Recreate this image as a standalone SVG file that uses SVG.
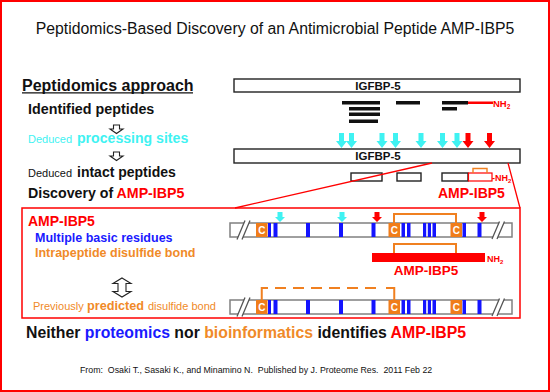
<svg xmlns="http://www.w3.org/2000/svg" width="550" height="392" viewBox="0 0 550 392">
<style>
text{font-family:"Liberation Sans",Arial,sans-serif}
.b{font-weight:bold}
.bar{fill:#fff;stroke:#222;stroke-width:1.4}
.seq{fill:#fff;stroke:#808080;stroke-width:1.5}
.bl{fill:#1414ff}
.cb{fill:#f07d1a}
.ct{fill:#fff;font-weight:bold;font-size:10px;text-anchor:middle}
.cy{fill:#3ff2f2}
.rd{fill:#f00}
.pk{fill:#111}
.hol{fill:#fff;stroke:#222;stroke-width:1.1}
.brk{stroke:#555;stroke-width:1.3;fill:none}
.ob{fill:none;stroke:#f08020;stroke-width:2}
.zl{fill:none;stroke:#f00;stroke-width:1.3}
</style>
<defs>
<path id="ar" d="M-2.5,0H2.5V8H5.5L0,15L-5.5,8H-2.5Z"/>
<path id="sa" d="M-2.5,0H2.5V5H5L0,10L-5,5H-2.5Z"/>
<g id="seqin">
<rect class="seq" x="230" y="0" width="282" height="14"/>
<rect class="bl" x="268" y="0" width="3" height="14"/>
<rect class="bl" x="273.5" y="0" width="4" height="14"/>
<rect class="bl" x="306" y="0" width="4" height="14"/>
<rect class="bl" x="339" y="0" width="4" height="14"/>
<rect class="bl" x="371.5" y="0" width="4" height="14"/>
<rect class="bl" x="401.5" y="0" width="3.5" height="14"/>
<rect class="bl" x="407" y="0" width="3.5" height="14"/>
<rect class="bl" x="423" y="0" width="3.2" height="14"/>
<rect class="bl" x="427.8" y="0" width="3.2" height="14"/>
<rect class="bl" x="432.5" y="0" width="3.5" height="14"/>
<rect class="bl" x="462.5" y="0" width="3.5" height="14"/>
<rect class="bl" x="477.5" y="0" width="4" height="14"/>
<rect class="cb" x="256" y="0" width="11.5" height="14"/>
<rect class="cb" x="388.5" y="0" width="11.5" height="14"/>
<rect class="cb" x="450.5" y="0" width="11.5" height="14"/>
<text class="ct" x="261.75" y="11">C</text>
<text class="ct" x="394.25" y="11">C</text>
<text class="ct" x="456.25" y="11">C</text>
<polygon points="237,16.5 245,-2.5 250,-2.5 242,16.5" fill="#fff"/>
<path class="brk" d="M237,16.5L245,-2.5M242,16.5L250,-2.5"/>
<polygon points="492,16 499.5,-1.5 504.5,-1.5 497,16" fill="#fff"/>
<path class="brk" d="M492,16L499.5,-1.5M497,16L504.5,-1.5"/>
</g>
</defs>

<rect x="1" y="1" width="548" height="390" fill="none" stroke="#f00" stroke-width="2"/>

<g id="title">
<text x="275" y="34" font-size="15.8" text-anchor="middle" fill="#111">Peptidomics-Based Discovery of an Antimicrobial Peptide AMP-IBP5</text>
</g>

<g id="approach">
<text class="b" x="22" y="90.5" font-size="16" fill="#111">Peptidomics approach</text>
<line x1="22" y1="92.8" x2="193" y2="92.8" stroke="#111" stroke-width="1.3"/>
<text class="b" x="28" y="114" font-size="14.3" fill="#111">Identified peptides</text>
<path class="hol" d="M113.5,125H119.5V129H123L116.5,133.5L110,129H113.5Z"/>
<text x="28" y="143" font-size="11" fill="#3ff2f2">Deduced<tspan class="b" x="77" font-size="14.1">processing sites</tspan></text>
<path class="hol" d="M113.5,152H119.5V156H123L116.5,160.5L110,156H113.5Z"/>
<text x="28" y="177" font-size="11" fill="#111">Deduced<tspan class="b" x="77" font-size="14">intact peptides</tspan></text>
<text class="b" x="28" y="198" font-size="14.2" fill="#111">Discovery of <tspan fill="#f00">AMP-IBP5</tspan></text>
</g>

<g id="igfbp5-top">
<rect class="bar" x="234" y="79" width="286" height="13"/>
<text class="b" x="378" y="89.5" font-size="11.5" text-anchor="middle" fill="#111">IGFBP-5</text>
</g>

<g id="identified-peptides">
<rect class="pk" x="342" y="101" width="38" height="3.5"/>
<rect class="pk" x="349" y="107" width="31" height="3.5"/>
<rect class="pk" x="349" y="112.5" width="31" height="3.5"/>
<rect class="pk" x="349" y="119.5" width="29" height="3.5"/>
<rect class="pk" x="396" y="101" width="24" height="3.5"/>
<rect class="pk" x="442" y="101" width="26" height="3.5"/>
<rect class="pk" x="442" y="107" width="15" height="3.5"/>
<rect class="rd" x="468" y="101.5" width="25" height="2.5"/>
<text class="b" x="493" y="106.5" font-size="9.5" fill="#f00">NH<tspan font-size="6.5" dy="2">2</tspan></text>
</g>

<g id="processing-sites">
<use href="#ar" class="cy" x="341.5" y="133"/>
<use href="#ar" class="cy" x="351.5" y="133"/>
<use href="#ar" class="cy" x="382" y="133"/>
<use href="#ar" class="cy" x="395.5" y="133"/>
<use href="#ar" class="cy" x="421" y="133"/>
<use href="#ar" class="cy" x="442.5" y="133"/>
<use href="#ar" class="cy" x="457" y="133"/>
<use href="#ar" class="rd" x="468" y="133"/>
<use href="#ar" class="rd" x="489.5" y="133"/>
</g>

<g id="igfbp5-bottom">
<rect class="bar" x="234" y="149" width="286" height="14"/>
<text class="b" x="378" y="160" font-size="11.5" text-anchor="middle" fill="#111">IGFBP-5</text>
</g>

<g id="intact-peptides">
<rect class="bar" x="351" y="173" width="31" height="8" stroke-width="1.2"/>
<rect class="bar" x="397" y="173" width="24" height="8" stroke-width="1.2"/>
<rect class="bar" x="442" y="173" width="26" height="8" stroke-width="1.2"/>
<rect x="468.5" y="173" width="23.5" height="8" fill="#fff" stroke="#f00" stroke-width="1.2"/>
<path d="M473,173V168.5H487V173" fill="none" stroke="#f08020" stroke-width="1.4"/>
<text class="b" x="492" y="180.5" font-size="9" fill="#f00">-NH<tspan font-size="6" dy="2">2</tspan></text>
<text class="b" x="438" y="198" font-size="14" fill="#f00">AMP-IBP5</text>
</g>

<g id="connectors">
<path class="zl" d="M432,163L235,208M508,163L520,208"/>
</g>

<g id="detail-box">
<rect x="22" y="208" width="498" height="110" fill="none" stroke="#f00" stroke-width="1.5"/>
<text class="b" x="28" y="226" font-size="14" fill="#f00">AMP-IBP5</text>
<text class="b" x="35" y="242" font-size="12.5" fill="#1a1aff">Multiple basic residues</text>
<text class="b" x="35" y="257" font-size="12.5" fill="#f08a28">Intrapeptide disulfide bond</text>
<path class="hol" d="M122,278L131,283.5H126V291.5H131L122,297L113,291.5H118V283.5H113Z"/>
<text x="33" y="310" font-size="11" fill="#f08a28">Previously<tspan class="b" x="87" font-size="12.7">predicted</tspan><tspan x="148">disulfide bond</tspan></text>
</g>

<g id="sequence-actual">
<use href="#seqin" y="223"/>
<use href="#sa" class="cy" x="280" y="212"/>
<use href="#sa" class="cy" x="342" y="212"/>
<use href="#sa" class="rd" x="377" y="212"/>
<use href="#sa" class="rd" x="482" y="212"/>
<path class="ob" d="M394,223V214H456V223"/>
</g>

<g id="amp-ibp5-peptide">
<path class="ob" d="M394,253V244H456V253"/>
<rect class="rd" x="372" y="253" width="113" height="9"/>
<text class="b" x="487" y="262" font-size="9" fill="#f00">NH<tspan font-size="6" dy="2">2</tspan></text>
<text class="b" x="426" y="275" font-size="13.5" text-anchor="middle" fill="#f00">AMP-IBP5</text>
</g>

<g id="sequence-predicted">
<use href="#seqin" y="300"/>
<path class="ob" d="M261.75,300V288H268M386,288H394.25V300"/>
<path class="ob" d="M275,288H382" stroke-dasharray="11,7"/>
</g>

<g id="conclusion">
<text class="b" x="26" y="338" font-size="15.8" fill="#111">Neither <tspan fill="#1a1aff">proteomics</tspan> nor <tspan fill="#f08a28">bioinformatics</tspan> identifies <tspan fill="#f00">AMP-IBP5</tspan></text>
</g>

<g id="footer">
<text x="80" y="373" font-size="8.8" fill="#111" xml:space="preserve">From:  Osaki T., Sasaki K., and Minamino N.  Published by J. Proteome Res.  2011 Feb 22</text>
</g>
</svg>
